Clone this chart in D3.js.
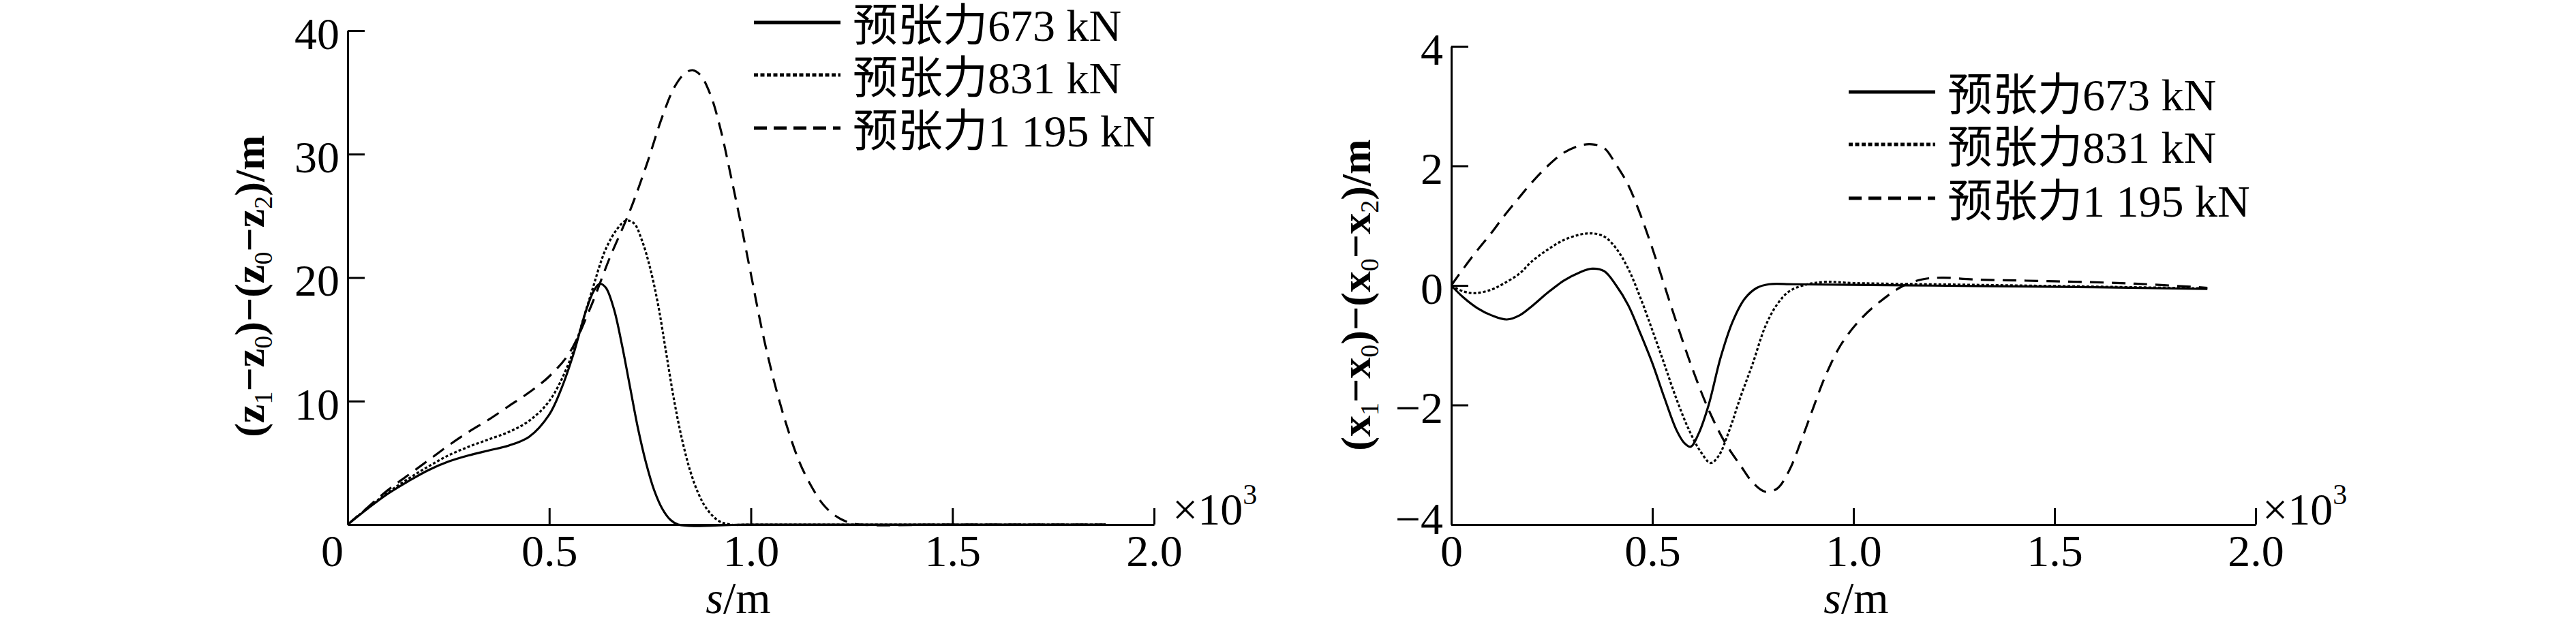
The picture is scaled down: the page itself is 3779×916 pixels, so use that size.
<!DOCTYPE html>
<html>
<head>
<meta charset="utf-8">
<script src="https://cdn.jsdelivr.net/npm/d3@7"></script>
<style>
  body { margin: 0; background: #fff; }
  text { fill: #000; }
</style>
</head>
<body>
<div id="chart"></div>
<script>
// legend labels (same for both panels)
let seriesNames = ["预张力673 kN", "预张力831 kN", "预张力1 195 kN"];

// x axis ticks, in units of 10^3 m
let sTicks = [0, 0.5, 1.0, 1.5, 2.0];
let sTickLabels = ["0", "0.5", "1.0", "1.5", "2.0"];

// left panel: (z1-z0)-(z0-z2)
let zTicks = [10, 20, 30, 40];
let zS673 = [0, 0.05, 0.1, 0.15, 0.2, 0.25, 0.3, 0.35, 0.4, 0.45, 0.5, 0.53, 0.56, 0.59, 0.61, 0.625, 0.64, 0.66, 0.68, 0.7, 0.72, 0.74, 0.76, 0.78, 0.8, 0.82, 1.0, 1.5, 1.88];
let zV673 = [0, 1.3, 2.5, 3.5, 4.4, 5.1, 5.6, 6.0, 6.4, 7.1, 8.9, 11.0, 13.8, 17.2, 18.9, 19.5, 19.2, 17.5, 14.6, 11.2, 7.8, 5.0, 2.8, 1.3, 0.4, 0, 0, 0, 0];
let zS831 = [0, 0.05, 0.1, 0.15, 0.2, 0.25, 0.3, 0.35, 0.4, 0.45, 0.5, 0.55, 0.6, 0.64, 0.67, 0.69, 0.71, 0.73, 0.75, 0.77, 0.79, 0.81, 0.83, 0.85, 0.87, 0.89, 0.92, 0.95, 1.0, 1.5, 1.88];
let zV831 = [0, 1.35, 2.6, 3.7, 4.7, 5.6, 6.3, 6.9, 7.5, 8.4, 10.0, 13.2, 18.3, 22.3, 24.0, 24.6, 24.4, 23.0, 20.8, 17.8, 13.9, 10.0, 6.8, 4.3, 2.5, 1.3, 0.3, 0, 0, 0, 0];
let zS1195 = [0, 0.05, 0.1, 0.15, 0.2, 0.25, 0.3, 0.35, 0.4, 0.45, 0.5, 0.55, 0.6, 0.65, 0.7, 0.74, 0.78, 0.81, 0.835, 0.855, 0.875, 0.9, 0.925, 0.95, 0.975, 1.0, 1.03, 1.06, 1.09, 1.12, 1.15, 1.18, 1.21, 1.24, 1.27, 1.5, 1.88];
let zV1195 = [0, 1.4, 2.8, 4.0, 5.2, 6.4, 7.5, 8.5, 9.6, 10.7, 12.0, 13.9, 17.4, 21.6, 25.4, 29.0, 33.0, 35.4, 36.5, 36.8, 36.4, 34.8, 32.0, 28.3, 24.4, 20.3, 15.4, 11.3, 7.9, 5.1, 3.1, 1.6, 0.7, 0.2, 0, 0, 0];

// right panel: (x1-x0)-(x0-x2)
let xTicks = [-4, -2, 0, 2, 4];
let xS673 = [0, 0.03, 0.065, 0.1, 0.138, 0.17, 0.2, 0.24, 0.28, 0.32, 0.35, 0.38, 0.41, 0.44, 0.47, 0.5, 0.53, 0.56, 0.58, 0.595, 0.615, 0.64, 0.67, 0.7, 0.73, 0.76, 0.79, 0.85, 1.0, 1.3, 1.6, 1.88];
let xV673 = [0, -0.2, -0.38, -0.5, -0.57, -0.5, -0.35, -0.12, 0.08, 0.22, 0.28, 0.24, 0.0, -0.33, -0.8, -1.3, -1.88, -2.42, -2.64, -2.7, -2.48, -2.0, -1.2, -0.6, -0.22, -0.04, 0.02, 0.02, 0.01, -0.01, -0.03, -0.06];
let xS831 = [0, 0.03, 0.06, 0.1, 0.13, 0.17, 0.2, 0.24, 0.28, 0.32, 0.35, 0.38, 0.41, 0.44, 0.47, 0.5, 0.53, 0.56, 0.59, 0.62, 0.645, 0.665, 0.69, 0.72, 0.75, 0.78, 0.81, 0.84, 0.88, 0.93, 1.0, 1.3, 1.6, 1.88];
let xV831 = [0, -0.1, -0.13, -0.07, 0.03, 0.2, 0.4, 0.6, 0.76, 0.85, 0.87, 0.82, 0.62, 0.28, -0.2, -0.75, -1.32, -1.9, -2.4, -2.78, -2.97, -2.85, -2.45, -1.85, -1.3, -0.7, -0.32, -0.1, 0.01, 0.06, 0.04, 0.01, -0.02, -0.05];
let xS1195 = [0, 0.03, 0.065, 0.1, 0.13, 0.17, 0.2, 0.24, 0.28, 0.32, 0.35, 0.38, 0.41, 0.44, 0.47, 0.5, 0.53, 0.56, 0.6, 0.64, 0.68, 0.72, 0.75, 0.78, 0.81, 0.84, 0.87, 0.9, 0.93, 0.97, 1.02, 1.07, 1.12, 1.17, 1.22, 1.3, 1.5, 1.7, 1.88];
let xV1195 = [0, 0.28, 0.59, 0.88, 1.15, 1.48, 1.72, 2.0, 2.22, 2.34, 2.36, 2.3, 2.02, 1.68, 1.19, 0.62, 0.0, -0.62, -1.4, -2.08, -2.62, -3.02, -3.3, -3.45, -3.4, -3.1, -2.6, -2.05, -1.52, -0.98, -0.55, -0.25, -0.02, 0.1, 0.13, 0.1, 0.07, 0.03, -0.04];

// line styles for the three series
let dashes = [null, "4,3", "20,12"];
let legendDashes = [null, "6,3.5", "19,10"];

let svgWidth = 3779;
let svgHeight = 916;
let serif = "Liberation Serif, 'Noto Sans CJK SC', serif";

let svg = d3.select("#chart")
  .append("svg")
  .attr("width", svgWidth)
  .attr("height", svgHeight)
  .style("background", "#fff");

function pairs(s, v) {
  return s.map((d, i) => ({ s: d, v: v[i] }));
}

function drawPanel(p) {
  let x = d3.scaleLinear().domain([0, 2]).range([p.left, p.right]);
  let y = d3.scaleLinear().domain(p.yDomain).range([p.bottom, p.top]);

  // x axis, ticks pointing inward
  let bottomAxis = d3.axisBottom(x)
    .tickValues(sTicks)
    .tickFormat((d, i) => sTickLabels[i])
    .tickSize(-24)
    .tickSizeOuter(0)
    .tickPadding(14);

  let gx = svg.append("g")
    .attr("transform", `translate(0,${p.bottom})`)
    .call(bottomAxis)
    .attr("font-family", serif)
    .attr("font-size", 66);
  gx.select(".domain").attr("stroke-width", 3);
  gx.selectAll(".tick line").attr("stroke-width", 3);
  gx.selectAll(".tick text").attr("fill", "#000");
  if (p.zeroShift) {
    gx.selectAll(".tick text").filter(d => d === 0).attr("x", p.zeroShift);
  }

  // y axis
  let leftAxis = d3.axisLeft(y)
    .tickValues(p.yTicks)
    .tickFormat(d3.format("d"))
    .tickSize(-25)
    .tickSizeOuter(0)
    .tickPadding(12);

  let gy = svg.append("g")
    .attr("transform", `translate(${p.left},0)`)
    .call(leftAxis)
    .attr("font-family", serif)
    .attr("font-size", 66);
  gy.select(".domain").attr("stroke-width", 3);
  gy.selectAll(".tick line").attr("stroke-width", 3);
  gy.selectAll(".tick text").attr("fill", "#000").attr("dy", "0.4em");
  // lowest label sits a little higher so it clears the x labels
  gy.selectAll(".tick text").filter(d => d === p.yDomain[0] && d !== 0).attr("y", -13);

  // x10^3 marker
  let mult = svg.append("text")
    .attr("x", p.multX)
    .attr("y", p.bottom)
    .attr("font-family", serif)
    .attr("font-size", 66)
    .text("×10");
  mult.append("tspan")
    .attr("font-size", 42)
    .attr("dy", -30)
    .text("3");

  // x title
  let xt = svg.append("text")
    .attr("x", p.xTitleX)
    .attr("y", 900)
    .attr("text-anchor", "middle")
    .attr("font-family", serif)
    .attr("font-size", 66);
  xt.append("tspan").attr("font-style", "italic").text("s");
  xt.append("tspan").text("/m");

  // y title, rotated, with subscripts
  let yt = svg.append("text")
    .attr("transform", `translate(${p.yTitleX},${p.yTitleY}) rotate(-90)`)
    .attr("text-anchor", "middle")
    .attr("font-family", serif)
    .attr("font-weight", "bold")
    .attr("font-size", 62);
  let v = p.letter;
  let parts = [["(" + v, "1"], ["\u2212" + v, "0"], [")\u2212(" + v, "0"], ["\u2212" + v, "2"], [")/m", null]];
  parts.forEach(function(pt) {
    yt.append("tspan").text(pt[0]);
    if (pt[1]) {
      yt.append("tspan")
        .attr("font-size", 38)
        .attr("font-weight", "normal")
        .attr("baseline-shift", -12)
        .text(pt[1]);
    }
  });

  // curves
  let line = d3.line()
    .x(d => x(d.s))
    .y(d => y(d.v))
    .curve(d3.curveCatmullRom.alpha(0.5));

  p.series.forEach(function(ser, i) {
    svg.append("path")
      .datum(pairs(ser[0], ser[1]))
      .attr("fill", "none")
      .attr("stroke", "#000")
      .attr("stroke-width", 3.2)
      .attr("stroke-dasharray", dashes[i])
      .attr("d", line);
  });

  // legend
  seriesNames.forEach(function(name, i) {
    let ly = p.legendY[i];
    svg.append("line")
      .attr("x1", p.legendX)
      .attr("x2", p.legendX + 127)
      .attr("y1", ly)
      .attr("y2", ly)
      .attr("stroke", "#000")
      .attr("stroke-width", 5)
      .attr("stroke-dasharray", legendDashes[i]);
    svg.append("text")
      .attr("x", p.legendX + 145)
      .attr("y", ly + 27)
      .attr("font-family", serif)
      .attr("font-size", 66)
      .text(name);
  });
}

// left panel
drawPanel({
  left: 510, right: 1693, top: 45, bottom: 770,
  yDomain: [0, 40], yTicks: zTicks,
  zeroShift: -23,
  multX: 1720, xTitleX: 1083,
  yTitleX: 387, yTitleY: 420, letter: "z",
  legendX: 1106, legendY: [33, 110, 188],
  series: [[zS673, zV673], [zS831, zV831], [zS1195, zV1195]]
});

// right panel
drawPanel({
  left: 2129, right: 3309, top: 68, bottom: 770,
  yDomain: [-4, 4], yTicks: xTicks,
  zeroShift: null,
  multX: 3319, xTitleX: 2723,
  yTitleX: 2010, yTitleY: 433, letter: "x",
  legendX: 2712, legendY: [135, 212, 291],
  series: [[xS673, xV673], [xS831, xV831], [xS1195, xV1195]]
});
</script>
</body>
</html>
